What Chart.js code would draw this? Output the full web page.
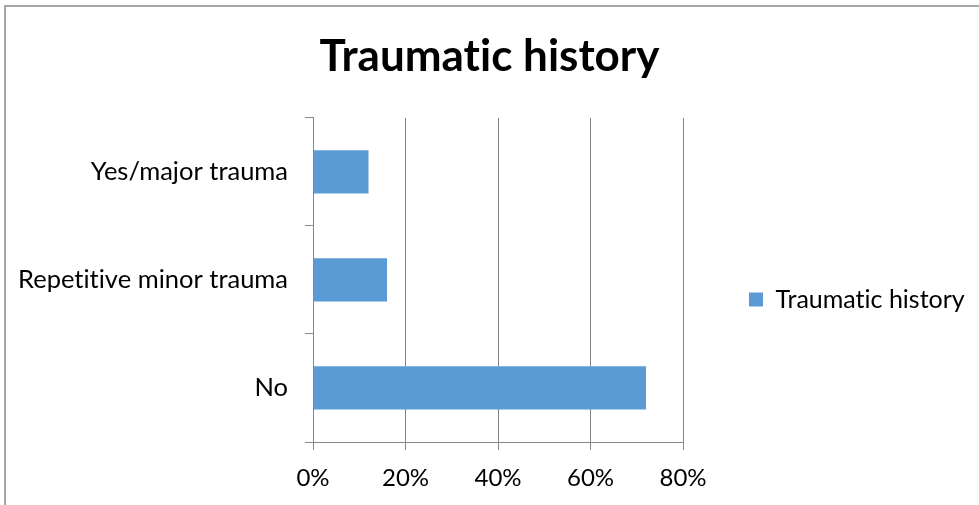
<!DOCTYPE html>
<html>
<head>
<meta charset="utf-8">
<script src="https://cdn.jsdelivr.net/npm/chart.js@4/dist/chart.umd.min.js"></script>
<style>
    html, body { margin: 0; padding: 0; background: #fff; overflow: hidden; }
    #wrap { position: relative; width: 979px; height: 505px; overflow: hidden; }
    #frame { position: absolute; left: 4px; top: 5px; width: 1000px; height: 600px;
             border-left: 2px solid #a6a6a6; border-top: 2px solid #a6a6a6; }
    canvas { position: absolute; left: 0; top: 0; }
</style>
</head>
<body>
<div id="wrap">
    <div id="frame"></div>
    <canvas id="chart" width="979" height="505"></canvas>
</div>
<script>
// Data (percent of cases)
const categories = ['Yes/major trauma', 'Repetitive minor trauma', 'No'];
const traumaValues = [12, 16, 72];
const seriesName = 'Traumatic history';
const xTicks = [0, 20, 40, 60, 80];

const FONT = 'Lato, "Open Sans", sans-serif';
const GRID = '#868686';

// Widen the legend box so the plot ends where the reference does,
// and turn off the "ti" ligature of Lato
const layoutTweaks = {
    id: 'layoutTweaks',
    afterInit(chart) {
        chart.ctx.textRendering = 'optimizeSpeed';
        const fit = chart.legend.fit;
        chart.legend.fit = function () {
            fit.call(this);
            this.width = 296;
        };
    }
};

const ctx = document.getElementById('chart').getContext('2d');
new Chart(ctx, {
    type: 'bar',
    data: {
        labels: categories,
        datasets: [{
            label: seriesName,
            data: traumaValues,
            backgroundColor: '#5B9BD5',
            borderWidth: 0,
            barPercentage: 0.4,
            categoryPercentage: 1.0
        }]
    },
    options: {
        indexAxis: 'y',
        responsive: false,
        animation: false,
        layout: { padding: 0 },
        scales: {
            x: {
                min: xTicks[0],
                max: xTicks[xTicks.length - 1],
                afterBuildTicks: (scale) => { scale.ticks = xTicks.map(v => ({ value: v })); },
                ticks: {
                    callback: (v) => v + '%',
                    color: '#000',
                    font: { family: FONT, size: 24 },
                    padding: 14,
                    maxRotation: 0
                },
                grid: { color: GRID, lineWidth: 1, tickLength: 8 },
                border: { color: GRID },
                afterFit: (scale) => { scale.height = 63; }
            },
            y: {
                ticks: {
                    color: '#000',
                    font: { family: FONT, size: 25.5 },
                    padding: 17
                },
                grid: { drawOnChartArea: false, color: GRID, tickLength: 8, offset: true },
                border: { color: GRID },
                afterFit: (scale) => { scale.width = 313; }
            }
        },
        plugins: {
            title: {
                display: true,
                text: 'Traumatic history',
                color: '#000',
                font: { family: FONT, size: 44, weight: 'bold' },
                padding: { top: 30, bottom: 35 }
            },
            legend: {
                position: 'right',
                title: { display: true, text: '', font: { size: 10 }, padding: { top: 82, bottom: 0 } },
                labels: {
                    boxWidth: 14,
                    boxHeight: 14,
                    padding: 66,
                    color: '#000',
                    font: { family: FONT, size: 25 }
                }
            },
            tooltip: { enabled: false }
        }
    },
    plugins: [layoutTweaks]
});
</script>
</body>
</html>
